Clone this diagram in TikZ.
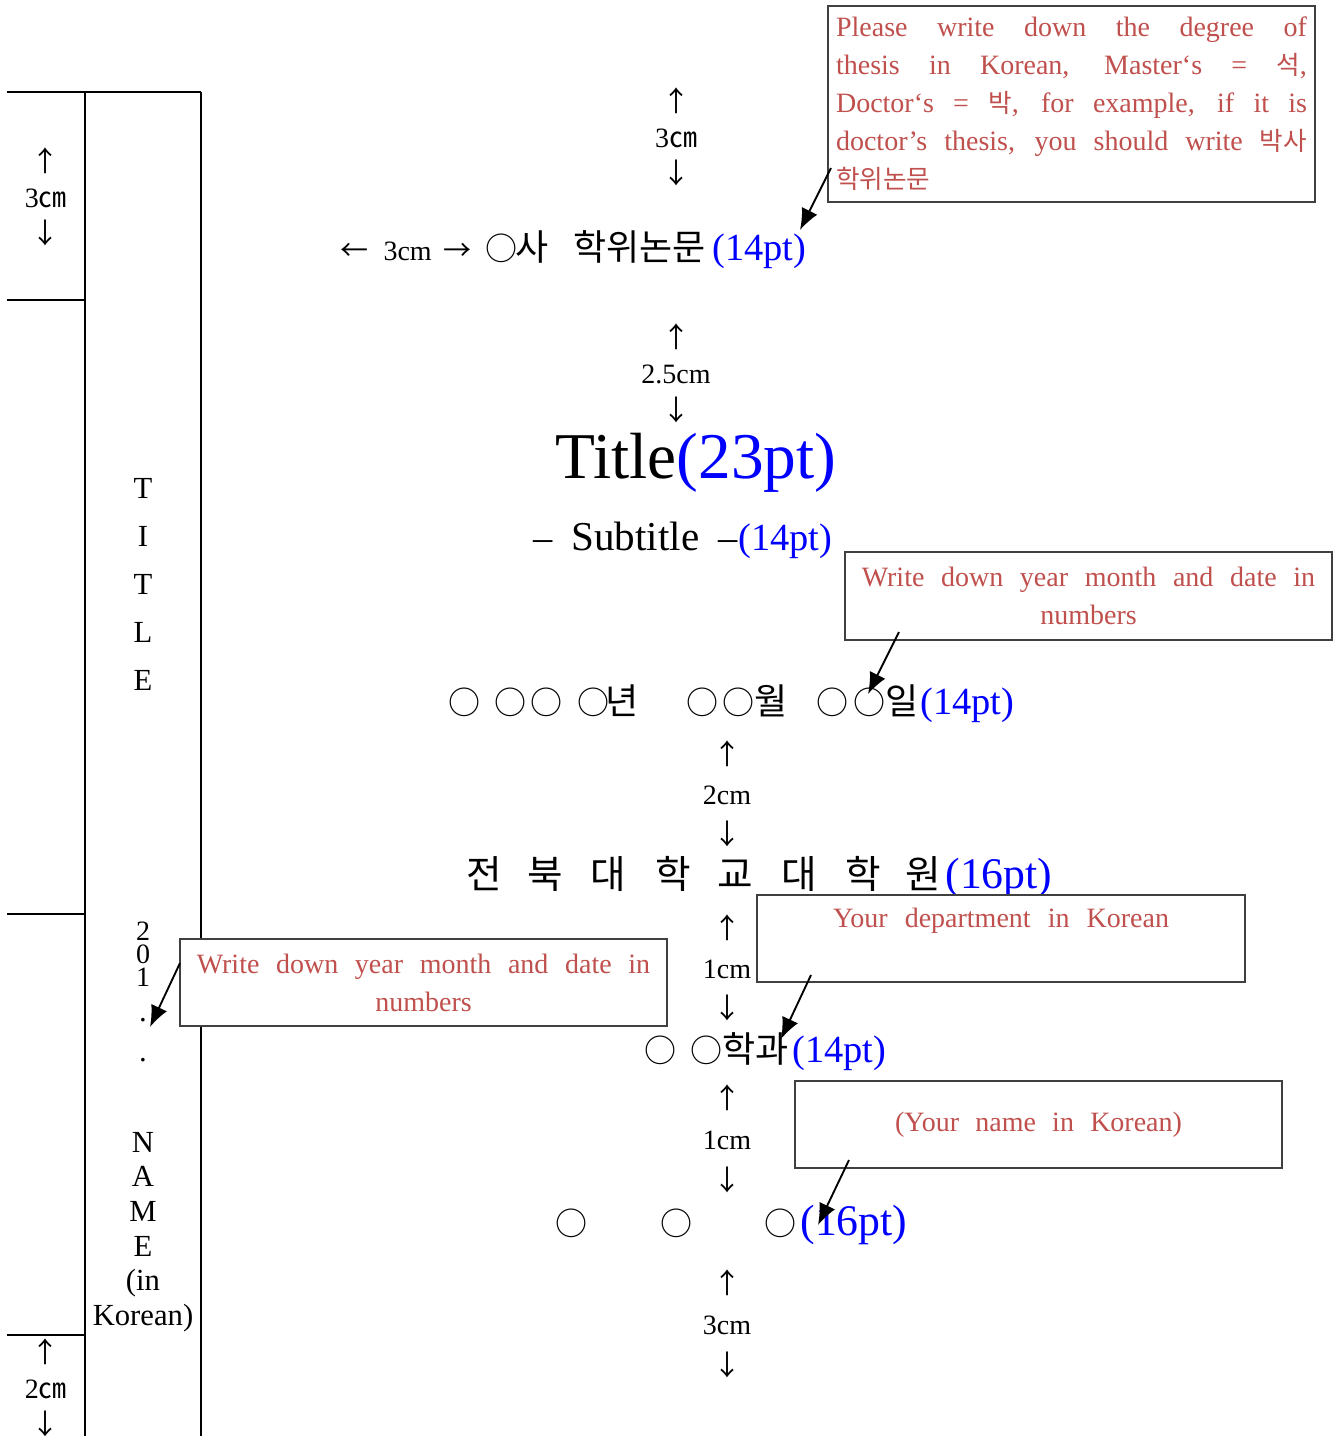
\documentclass[tikz,border=0pt]{standalone}
\usepackage{fontspec}
\setmainfont{Liberation Serif}
\newfontfamily\kr{Noto Sans CJK KR}
\usetikzlibrary{arrows.meta}
\definecolor{cred}{RGB}{192,80,77}
\definecolor{cblue}{RGB}{0,0,255}
\newdimen\upx \upx=0.375pt
\newcommand\seg[2]{\makebox[#1\upx][l]{#2}}
\newcommand\fs[2]{\fontsize{#1}{#2}\selectfont}
\newcommand\K[1]{{\kr\fs{13.5}{16}#1}}
\newcommand\KK[1]{{\kr\fs{14.5}{17}#1}}
\newcommand\C{{\kr\fs{12}{14}○}}
\newcommand\kd[1]{{\kr\fs{10.5}{12}#1}}
\newcommand\kc[1]{{\kr\fs{9.6}{14.25}#1}}
\newcommand\bl[1]{\textcolor{cblue}{#1}}
\begin{document}
\begin{tikzpicture}[x=0.375pt,y=-0.375pt,
  sp/.style={line width=0.6pt, black},
  dim/.style={align=center, inner sep=0pt},
  spine/.style={align=center, inner sep=0pt},
  mline/.style={anchor=west, inner sep=0pt, font=\fs{14.4}{17}},
  cbox/.style={draw=black!75, line width=0.6pt, fill=white, inner sep=0pt,
    text=cred, font=\fs{10.5}{14.25}},
  callarrow/.style={-{Latex[length=8pt,width=6.5pt]}, line width=0.7pt}]
\useasboundingbox (0,0) rectangle (1336,1436);

% spine
\draw[sp] (7,92) -- (201,92);
\draw[sp] (85,92) -- (85,1436);
\draw[sp] (201,92) -- (201,1436);
\draw[sp] (7,300) -- (85,300);
\draw[sp] (7,914) -- (85,914);
\draw[sp] (7,1335) -- (85,1335);

\node[dim, font=\fs{10.5}{13.5}] (m1) at (46,197) {\kd{↑}\\3\kd{㎝}\\\kd{↓}};
\node[dim, font=\fs{10.5}{13.5}] (m2) at (46,1388) {\kd{↑}\\2\kd{㎝}\\\kd{↓}};

\node[spine, font=\fs{11.5}{18}] (sT) at (143,584) {T\\I\\T\\L\\E};
\node[spine, font=\fs{10.5}{8.6}] (sY) at (143,954) {2\\0\\1};
\node[spine, font=\fs{11.5}{13}, anchor=base] (sD1) at (143,1021) {.};
\node[spine, font=\fs{11.5}{13}, anchor=base] (sD2) at (143,1061) {.};
\node[spine, font=\fs{11.5}{13}] (sN) at (143,1232) {N\\A\\M\\E\\(in\\Korean)};

% dimension labels
\node[dim, font=\fs{10.5}{13.5}] (d1) at (676,137) {\kd{↑}\\3\kd{㎝}\\\kd{↓}};
\node[dim, font=\fs{10.5}{13.7}] (d2) at (676,373) {\kd{↑}\\2.5cm\\\kd{↓}};
\node[dim, font=\fs{10.5}{15}] (d3) at (727,794) {\kd{↑}\\2cm\\\kd{↓}};
\node[dim, font=\fs{10.5}{15}] (d4) at (727,968) {\kd{↑}\\1cm\\\kd{↓}};
\node[dim, font=\fs{10.5}{15.4}] (d5) at (727,1139) {\kd{↑}\\1cm\\\kd{↓}};
\node[dim, font=\fs{10.5}{15.4}] (d6) at (727,1324) {\kd{↑}\\3cm\\\kd{↓}};

% main lines
\node[mline] (lA) at (340,250) {\seg{43}{\kd{←}}\seg{60}{\fs{10.5}{12}3cm}\seg{42}{\kd{→}}\seg{30}{\C}\seg{58}{\K{사}}\seg{139}{\K{학위논문}}\bl{(14pt)}};
\node[mline, font=\fs{24.5}{28}] (lB) at (555,463) {Title\bl{(23pt)}};
\node[mline] (lC) at (533,540) {\seg{38}{–}\seg{147}{\fs{15.4}{17}Subtitle}\seg{20}{–}\bl{(14pt)}};
\node[mline] (lD) at (448,704) {\seg{46}{\C}\seg{36}{\C}\seg{47}{\C}\seg{28}{\C}\seg{81}{\K{년}}\seg{36}{\C}\seg{32}{\C}\seg{62}{\K{월}}\seg{37}{\C}\seg{32}{\C}\seg{35}{\K{일}}\bl{(14pt)}};
\node[mline] (lE) at (466,877) {\seg{61}{\KK{전}}\seg{63}{\KK{북}}\seg{65}{\KK{대}}\seg{62}{\KK{학}}\seg{64}{\KK{교}}\seg{64}{\KK{대}}\seg{60}{\KK{학}}\seg{40}{\KK{원}}\bl{\fs{16.4}{19}(16pt)}};
\node[mline] (lF) at (644,1052) {\seg{46}{\C}\seg{32}{\C}\seg{70}{\K{학과}}\bl{(14pt)}};
\node[mline] (lG) at (555,1225) {\seg{105}{\C}\seg{104}{\C}\seg{36}{\C}\bl{\fs{16.4}{19}(16pt)}};

% callouts
\node[cbox, inner xsep=3pt, minimum height=73.5pt, align=left] (b1) at (1071.5,104)
 {\makebox[176.6pt][s]{Please write down the degree of}\\
  \makebox[176.6pt][s]{thesis in Korean, Master‘s = \kc{석},}\\
  \makebox[176.6pt][s]{Doctor‘s = \kc{박}, for example, if it is}\\
  \makebox[176.6pt][s]{doctor’s thesis, you should write \kc{박사}}\\
  \kc{학위논문}};
\node[cbox, minimum width=182.6pt, minimum height=33pt, align=center] (b2) at (1088.5,596)
 {\makebox[170pt][s]{Write down year month and date in}\\numbers};
\node[cbox, minimum width=182.6pt, minimum height=32.6pt, align=center] (b3) at (423.5,982.5)
 {\makebox[170pt][s]{Write down year month and date in}\\numbers};
\node[cbox, minimum width=183pt, minimum height=32.6pt] (b4) at (1001,938.5) {};
\node[inner sep=0pt, text=cred, font=\fs{10.5}{14.25}] (t4) at (1001,921)
 {\makebox[126pt][s]{Your department in Korean}};
\node[cbox, minimum width=182.6pt, minimum height=32.6pt] (b5) at (1038.5,1124.5)
 {\makebox[107.6pt][s]{(Your name in Korean)}};

% arrows
\coordinate (a1s) at (831,168);  \coordinate (a1e) at (800,230);
\coordinate (a2s) at (899,632);  \coordinate (a2e) at (868,694);
\coordinate (a3s) at (180,963);  \coordinate (a3e) at (150,1027);
\coordinate (a4s) at (811,975);  \coordinate (a4e) at (781,1039);
\coordinate (a5s) at (849,1160); \coordinate (a5e) at (818,1225);
\draw[callarrow] (a1s) -- (a1e);
\draw[callarrow] (a2s) -- (a2e);
\draw[callarrow] (a3s) -- (a3e);
\draw[callarrow] (a4s) -- (a4e);
\draw[callarrow] (a5s) -- (a5e);
\end{tikzpicture}
\end{document}
